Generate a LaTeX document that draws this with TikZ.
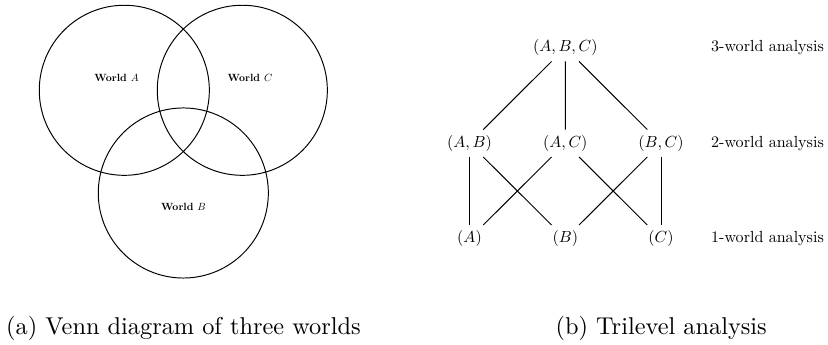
\RequirePackage{fix-cm}
\documentclass[tikz,border=0pt]{standalone}
\begin{document}
\begin{tikzpicture}[x=0.411pt,y=-0.411pt,
  venn/.style={circle,draw,line width=0.4pt,minimum size=69.9pt,inner sep=0pt},
  wlabel/.style={font=\fontsize{10}{12}\selectfont\bfseries,scale=0.43},
  lvl/.style={font=\fontsize{10}{12}\selectfont,scale=0.66,inner sep=3.33pt},
  lvltxt/.style={font=\fontsize{10}{12}\selectfont,scale=0.66},
  capt/.style={font=\fontsize{10}{12}\selectfont,anchor=base},
  edge/.style={line width=0.4pt}]
\useasboundingbox (0,0) rectangle (828,345);
% Venn
\node[venn] (cA) at (124.3,90.3) {};
\node[venn] (cC) at (242.3,90.3) {};
\node[venn] (cB) at (183.3,193) {};
\node[wlabel] (lA) at (116.5,78.3) {World $A$};
\node[wlabel] (lC) at (250,78.3) {World $C$};
\node[wlabel] (lB) at (183.5,207) {World $B$};
% Trilevel
\node[lvl] (abc) at (565.3,47.7) {$(A,B,C)$};
\node[lvl] (ab) at (469.5,143.3) {$(A,B)$};
\node[lvl] (ac) at (565.3,143.3) {$(A,C)$};
\node[lvl] (bc) at (661,143.3) {$(B,C)$};
\node[lvl] (a) at (469.5,238.7) {$(A)$};
\node[lvl] (b) at (565.3,238.7) {$(B)$};
\node[lvl] (c) at (661,238.7) {$(C)$};
\node[lvltxt] (l3) at (767.5,47.7) {3-world analysis};
\node[lvltxt] (l2) at (767.5,143.3) {2-world analysis};
\node[lvltxt] (l1) at (767.5,238.7) {1-world analysis};
\draw[edge] (abc) -- (ab);
\draw[edge] (abc) -- (ac);
\draw[edge] (abc) -- (bc);
\draw[edge] (ab) -- (a);
\draw[edge] (ab) -- (b);
\draw[edge] (ac) -- (a);
\draw[edge] (ac) -- (c);
\draw[edge] (bc) -- (b);
\draw[edge] (bc) -- (c);
% captions
\node[capt] (capa) at (183.5,335) {(a) Venn diagram of three worlds};
\node[capt] (capb) at (661.2,335) {(b) Trilevel analysis};
\end{tikzpicture}
\end{document}
